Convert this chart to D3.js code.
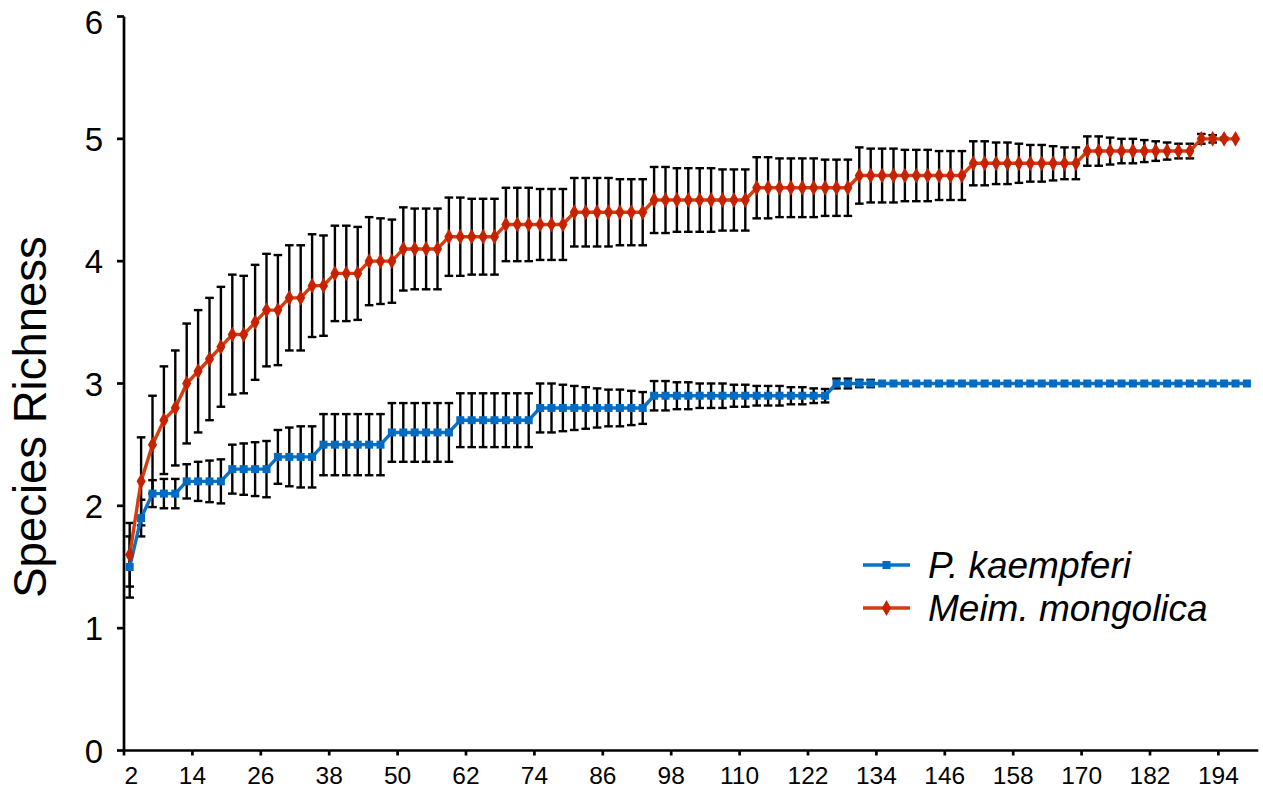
<!DOCTYPE html>
<html>
<head>
<meta charset="utf-8">
<script src="https://cdn.jsdelivr.net/npm/d3@7"></script>
<style>
html,body{margin:0;padding:0;background:#fff;}
svg{display:block;}
text{font-family:"Liberation Sans", Arial, Helvetica, sans-serif;}
</style>
</head>
<body>
<svg id="chart" width="1263" height="791"></svg>
<script>
// ---- data ----
const xTickLabels = [2,14,26,38,50,62,74,86,98,110,122,134,146,158,170,182,194];
const yTickLabels = [0,1,2,3,4,5,6];

const kaempferiX = d3.range(2, 199, 2);
const kaempferiMean = [
  1.5, 1.9,
  2.1, 2.1, 2.1,
  2.2, 2.2, 2.2, 2.2,
  2.3, 2.3, 2.3, 2.3,
  2.4, 2.4, 2.4, 2.4,
  2.5, 2.5, 2.5, 2.5, 2.5, 2.5,
  2.6, 2.6, 2.6, 2.6, 2.6, 2.6,
  2.7, 2.7, 2.7, 2.7, 2.7, 2.7, 2.7,
  2.8, 2.8, 2.8, 2.8, 2.8, 2.8, 2.8, 2.8, 2.8, 2.8,
  2.9, 2.9, 2.9, 2.9, 2.9, 2.9, 2.9, 2.9, 2.9, 2.9, 2.9, 2.9, 2.9, 2.9, 2.9, 2.9,
  3, 3, 3, 3, 3, 3, 3, 3, 3, 3, 3, 3, 3, 3, 3, 3, 3, 3, 3, 3,
  3, 3, 3, 3, 3, 3, 3, 3, 3, 3, 3, 3, 3, 3, 3, 3, 3
];
const kaempferiErr = [
  0.25, 0.15,
  0.11, 0.12, 0.12,
  0.14, 0.16, 0.17, 0.18,
  0.2, 0.21, 0.22, 0.23,
  0.22, 0.24, 0.25, 0.25,
  0.25, 0.25, 0.25, 0.25, 0.25, 0.25,
  0.24, 0.24, 0.24, 0.24, 0.24, 0.24,
  0.22, 0.22, 0.22, 0.22, 0.22, 0.22, 0.22,
  0.2, 0.2, 0.19, 0.18, 0.17, 0.16, 0.15, 0.15, 0.14, 0.13,
  0.12, 0.12, 0.11, 0.11, 0.1, 0.1, 0.1, 0.09, 0.09, 0.08, 0.08, 0.08, 0.07, 0.07, 0.06, 0.055,
  0.04, 0.04, 0.03, 0.03, 0, 0, 0, 0, 0, 0, 0, 0, 0, 0, 0, 0, 0, 0, 0, 0,
  0, 0, 0, 0, 0, 0, 0, 0, 0, 0, 0, 0, 0, 0, 0, 0, 0
];

const mongolicaX = d3.range(2, 197, 2);
const mongolicaMean = [
  1.6, 2.2, 2.5, 2.7, 2.8, 3.0, 3.1, 3.2, 3.3, 3.4, 3.4, 3.5,
  3.6, 3.6, 3.7, 3.7, 3.8, 3.8, 3.9, 3.9, 3.9, 4.0, 4.0, 4.0,
  4.1, 4.1, 4.1, 4.1,
  4.2, 4.2, 4.2, 4.2, 4.2,
  4.3, 4.3, 4.3, 4.3, 4.3, 4.3,
  4.4, 4.4, 4.4, 4.4, 4.4, 4.4, 4.4,
  4.5, 4.5, 4.5, 4.5, 4.5, 4.5, 4.5, 4.5, 4.5,
  4.6, 4.6, 4.6, 4.6, 4.6, 4.6, 4.6, 4.6, 4.6,
  4.7, 4.7, 4.7, 4.7, 4.7, 4.7, 4.7, 4.7, 4.7, 4.7,
  4.8, 4.8, 4.8, 4.8, 4.8, 4.8, 4.8, 4.8, 4.8, 4.8,
  4.9, 4.9, 4.9, 4.9, 4.9, 4.9, 4.9, 4.9, 4.9, 4.9,
  5.0, 5.0, 5.0, 5.0
];
const mongolicaErr = [
  0.26, 0.36, 0.4, 0.44, 0.47, 0.49, 0.5, 0.5, 0.49, 0.49, 0.48, 0.47,
  0.46, 0.45, 0.43, 0.43, 0.42, 0.41, 0.39, 0.39, 0.38, 0.36, 0.35, 0.34,
  0.34, 0.33, 0.33, 0.33,
  0.32, 0.32, 0.31, 0.31, 0.31,
  0.3, 0.3, 0.3, 0.29, 0.29, 0.29,
  0.28, 0.28, 0.28, 0.28, 0.27, 0.27, 0.27,
  0.27, 0.27, 0.26, 0.26, 0.26, 0.26, 0.25, 0.25, 0.25,
  0.25, 0.25, 0.24, 0.24, 0.24, 0.24, 0.23, 0.23, 0.23,
  0.23, 0.22, 0.22, 0.22, 0.21, 0.21, 0.21, 0.2, 0.2, 0.2,
  0.18, 0.18, 0.17, 0.17, 0.16, 0.15, 0.15, 0.14, 0.13, 0.13,
  0.12, 0.12, 0.11, 0.1, 0.1, 0.09, 0.08, 0.07, 0.06, 0.06,
  0.04, 0.03, 0.01, 0
];

const seriesNames = ["P. kaempferi", "Meim. mongolica"];
const yTitle = "Species Richness";

// ---- build ----
const blueLine = "#0B72C6", blueMark = "#006BC2";
const redLine = "#D43D0D", redMark = "#C62200";

const series = [
  {name: seriesNames[0], x: kaempferiX, mean: kaempferiMean, err: kaempferiErr, line: blueLine, mark: blueMark, shape: "square"},
  {name: seriesNames[1], x: mongolicaX, mean: mongolicaMean, err: mongolicaErr, line: redLine, mark: redMark, shape: "diamond"}
].map(s => ({...s, pts: s.x.map((v, i) => ({x: v, y: s.mean[i], e: s.err[i]}))}));

const svg = d3.select("#chart");
const x = d3.scaleLinear().domain([1, 200]).range([124, 1258.3]);
const y = d3.scaleLinear().domain([0, 6]).range([750.5, 16.5]);

// error bars (drawn under the lines)
const capW = 4.3;
series.forEach(s => {
  const g = svg.append("g").attr("stroke", "#000").attr("stroke-width", 2.4).attr("fill", "none");
  s.pts.filter(p => p.e > 0).forEach(p => {
    const cx = x(p.x), y1 = y(p.y + p.e), y2 = y(p.y - p.e);
    g.append("line").attr("x1", cx).attr("x2", cx).attr("y1", y1).attr("y2", y2);
    g.append("line").attr("x1", cx - capW).attr("x2", cx + capW).attr("y1", y1).attr("y2", y1);
    g.append("line").attr("x1", cx - capW).attr("x2", cx + capW).attr("y1", y2).attr("y2", y2);
  });
});

// lines and markers
const lineGen = d3.line().x(p => x(p.x)).y(p => y(p.y));
const sqSym = d3.symbol().type(d3.symbolSquare).size(64);
const diaSym = d3.symbol().type(d3.symbolDiamond).size(72);
series.forEach(s => {
  svg.append("path").datum(s.pts).attr("d", lineGen)
    .attr("fill", "none").attr("stroke", s.line).attr("stroke-width", 3.4).attr("stroke-linejoin", "round");
  svg.append("g").selectAll("path").data(s.pts).join("path")
    .attr("transform", p => `translate(${x(p.x)},${y(p.y)})`)
    .attr("d", s.shape === "square" ? sqSym : diaSym)
    .attr("fill", s.mark);
});

// axes
const axG = svg.append("g");
axG.append("line").attr("x1", 124).attr("x2", 124).attr("y1", y(6)).attr("y2", y(0))
  .attr("stroke", "#000").attr("stroke-width", 2.7);
axG.append("line").attr("x1", 124).attr("x2", x(200)).attr("y1", y(0)).attr("y2", y(0))
  .attr("stroke", "#000").attr("stroke-width", 2.7);

yTickLabels.forEach(v => {
  axG.append("line").attr("x1", 117).attr("x2", 124).attr("y1", y(v)).attr("y2", y(v))
    .attr("stroke", "#000").attr("stroke-width", 2.7);
  axG.append("text").attr("x", 103).attr("y", Math.max(y(v) + 12, 34))
    .attr("text-anchor", "end").attr("font-size", 33).attr("fill", "#000").text(v);
});

xTickLabels.forEach(v => {
  const tx = x(v - 1);
  axG.append("line").attr("x1", tx).attr("x2", tx).attr("y1", y(0)).attr("y2", y(0) + 5)
    .attr("stroke", "#000").attr("stroke-width", 2.7);
  const t = axG.append("text").attr("x", tx).attr("y", 784)
    .attr("text-anchor", "middle").attr("font-size", 24.5).attr("fill", "#000").text(v);
  const bb = t.node().getBBox();
  if (bb.x < 124) t.attr("x", 124 + bb.width / 2 + 0.5);
});

// y title
svg.append("text").attr("transform", "translate(46,417) rotate(-90)")
  .attr("text-anchor", "middle").attr("font-size", 45.5).attr("fill", "#000").text(yTitle);

// legend
const leg = svg.append("g");
series.forEach((s, i) => {
  const ly = 565 + i * 43;
  leg.append("line").attr("x1", 863).attr("x2", 910).attr("y1", ly).attr("y2", ly)
    .attr("stroke", s.line).attr("stroke-width", 3.6);
  leg.append("path").attr("transform", `translate(886.5,${ly})`)
    .attr("d", s.shape === "square" ? sqSym : diaSym).attr("fill", s.mark);
  leg.append("text").attr("x", 928).attr("y", ly + 13)
    .attr("font-size", 37).attr("font-style", "italic").attr("fill", "#000").text(s.name);
});
</script>
</body>
</html>
